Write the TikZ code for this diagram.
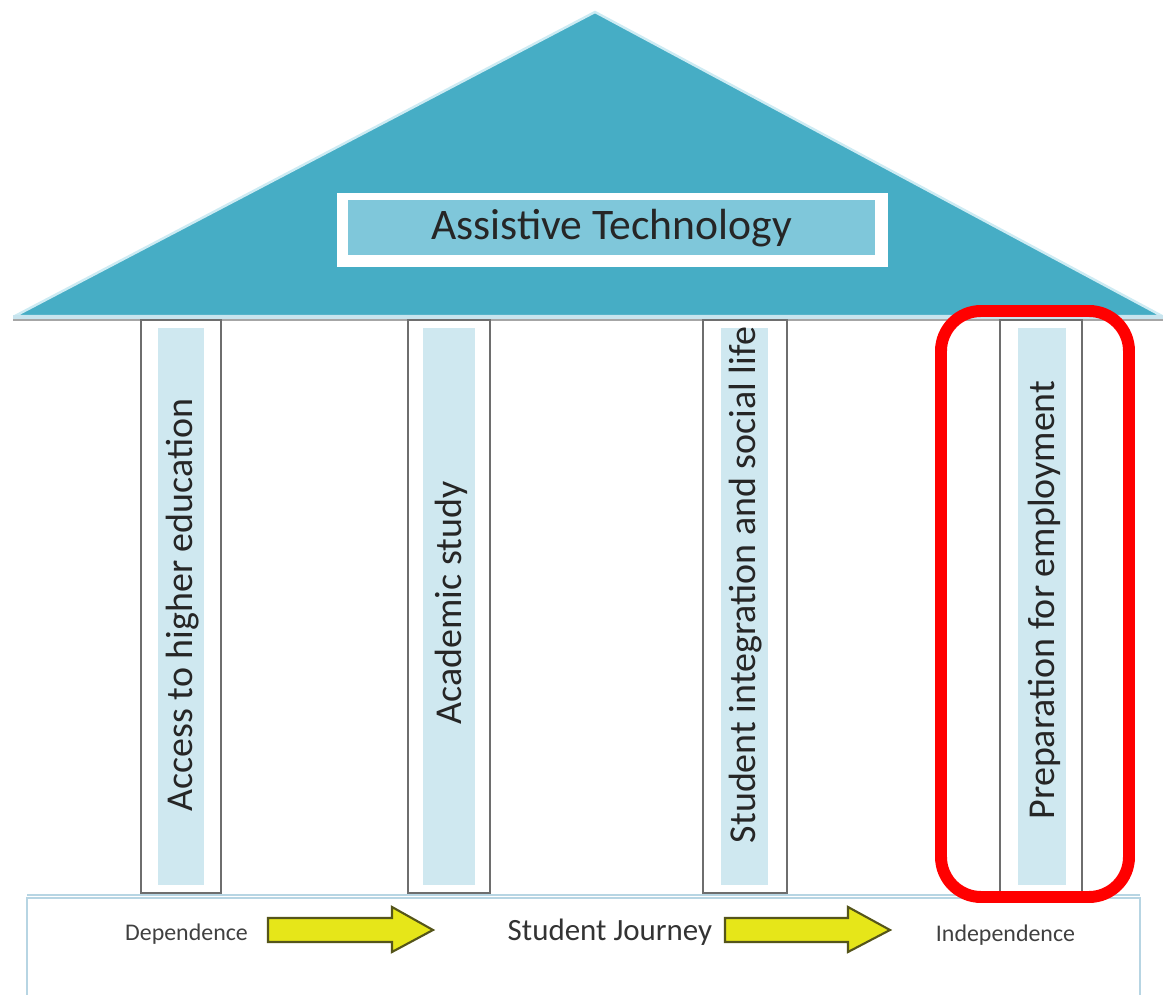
\documentclass[tikz,border=0pt]{standalone}
\usepackage{fontspec}
\setmainfont{Carlito}
\definecolor{roofc}{HTML}{46ADC5}
\definecolor{roofedge}{HTML}{CDEBF3}
\definecolor{titlec}{HTML}{7FC7DA}
\definecolor{stripc}{HTML}{CFE8F0}
\definecolor{pillarline}{HTML}{6E6E6E}
\definecolor{basec}{HTML}{B7D5E3}
\definecolor{baselight}{HTML}{C8E4EE}
\definecolor{arrowc}{HTML}{E6E619}
\definecolor{arrowline}{HTML}{55551A}
\begin{document}
\begin{tikzpicture}[x=0.01cm,y=-0.01cm,
  roof/.style={fill=roofc, draw=roofedge, line width=0.7pt, line join=round},
  pillarbox/.style={draw=pillarline, fill=white, line width=0.6pt, inner sep=0pt},
  strip/.style={fill=stripc, draw=white, line width=0.3pt, inner sep=0pt},
  ptext/.style={rotate=90, font=\fontsize{10.8}{13}\selectfont, text=black!85, inner sep=0pt},
  yarrow/.style={fill=arrowc, draw=arrowline, line width=0.6pt, line join=miter},
  small/.style={font=\fontsize{6.8}{8}\selectfont, text=black!75, inner sep=0pt},
  hilite/.style={draw=red, line width=3.4pt, rounded corners=0.4cm},
]
\useasboundingbox (0,0) rectangle (1163,995);
\clip (0,0) rectangle (1163,995);

% roof
\draw[roof] (595,12) -- (1162,316) -- (15,316) -- cycle;
\draw[line width=1.0pt, draw=baselight] (13,317) -- (1163,317);
\draw[line width=0.6pt, draw=gray!70] (13,320) -- (1163,320);

% title box
\node[fill=white, minimum width=5.51cm, minimum height=0.74cm, inner sep=0pt] (tb) at (612.5,230) {};
\node[fill=titlec, draw=white, line width=0.3pt, minimum width=5.27cm, minimum height=0.56cm, inner sep=0pt,
      font=\fontsize{12.4}{15}\selectfont, text=black!85] (title) at (611.5,228) {Assistive Technology};

% pillars
\node[pillarbox, minimum width=0.80cm, minimum height=5.73cm] (p1) at (181,606.5) {};
\node[strip, minimum width=0.48cm, minimum height=5.57cm] (s1) at (181,606.5) {};
\node[ptext] (t1) at (183,605) {Access to higher education};

\node[pillarbox, minimum width=0.82cm, minimum height=5.73cm] (p2) at (449,606.5) {};
\node[strip, minimum width=0.54cm, minimum height=5.57cm] (s2) at (449,606.5) {};
\node[ptext] (t2) at (451,603) {Academic study};

\node[pillarbox, minimum width=0.84cm, minimum height=5.73cm] (p3) at (745,606.5) {};
\node[strip, minimum width=0.49cm, minimum height=5.57cm] (s3) at (744.5,606.5) {};
\node[ptext] (t3) at (746,585) {Student integration and social life};

\node[pillarbox, minimum width=0.82cm, minimum height=5.73cm] (p4) at (1041,606.5) {};
\node[strip, minimum width=0.50cm, minimum height=5.57cm] (s4) at (1042,606.5) {};
\node[ptext] (t4) at (1044,600) {Preparation for employment};

% base
\draw[draw=basec, line width=0.6pt, fill=white] (27,898) rectangle (1140,1010);
\draw[draw=basec, line width=0.4pt] (27,895) -- (1140,895);

% arrows
\draw[yarrow] (268,918) -- (392,918) -- (392,907) -- (433,930) -- (392,952) -- (392,942) -- (268,942) -- cycle;
\draw[yarrow] (725,918) -- (848,918) -- (848,907) -- (890,930) -- (848,952) -- (848,942) -- (725,942) -- cycle;

\node[small] (dep) at (186.5,934) {Dependence};
\node[font=\fontsize{8.8}{11}\selectfont, text=black!80, inner sep=0pt] (journey) at (610,932) {Student Journey};
\node[small] (indep) at (1005.5,935) {Independence};

% highlight
\draw[hilite] (941,311) rectangle (1129,897);
\end{tikzpicture}
\end{document}
